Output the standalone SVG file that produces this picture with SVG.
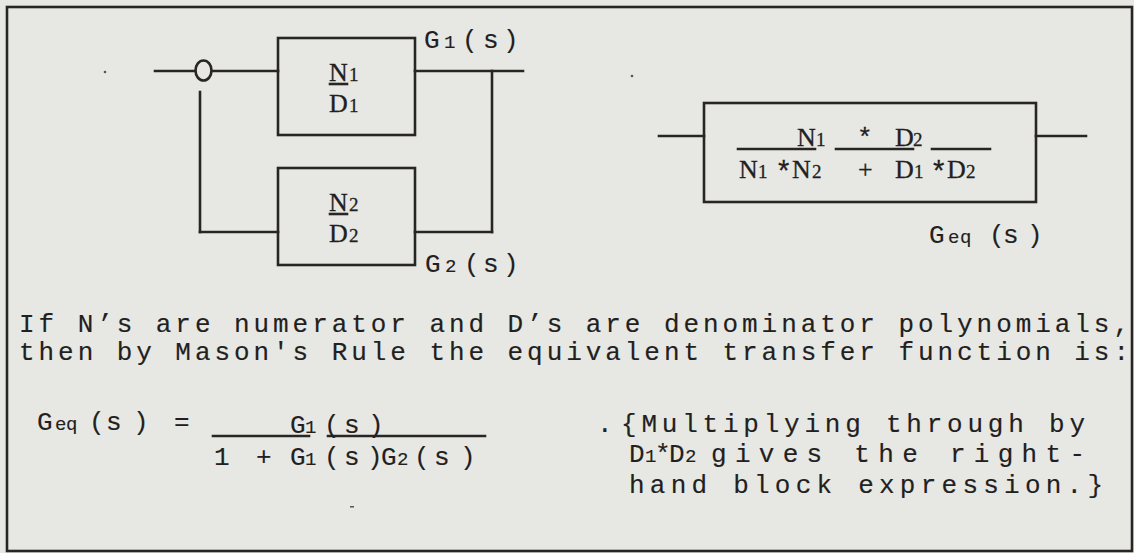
<svg xmlns="http://www.w3.org/2000/svg" width="1134" height="553" viewBox="0 0 1134 553">
<style>
.w{stroke:#2a2525;stroke-width:2.6;fill:none;stroke-linecap:square}
.box{fill:none;stroke:#2a2525;stroke-width:2.6}
.t{font-family:"Liberation Mono",monospace;font-size:26px;fill:#231f1f;stroke:#231f1f;stroke-width:0.15}
.s{font-family:"Liberation Serif",serif;font-size:26px;fill:#231f1f;stroke:#231f1f;stroke-width:0.3}
.sub{font-size:19px}
.ss{font-size:19px}
.ast{font-family:"Liberation Mono",monospace;font-size:29px}
.ast2{font-family:"Liberation Mono",monospace;font-size:26px}
</style>
<rect x="0" y="0" width="1134" height="553" fill="#e7e8e3"/>
<rect class="box" x="7" y="7" width="1125" height="544"/>

<g id="connectors">
<line class="w" x1="155" y1="71" x2="195" y2="71"/>
<line class="w" x1="212" y1="71" x2="278" y2="71"/>
<line class="w" x1="415" y1="71" x2="523" y2="71"/>
<line class="w" x1="492" y1="71" x2="492" y2="232"/>
<line class="w" x1="415" y1="232" x2="492" y2="232"/>
<line class="w" x1="200" y1="92" x2="200" y2="232"/>
<line class="w" x1="200" y1="232" x2="278" y2="232"/>
<line class="w" x1="659" y1="136" x2="704" y2="136"/>
<line class="w" x1="1036" y1="136" x2="1086" y2="136"/>
</g>

<g id="junction">
<ellipse class="w" cx="203.5" cy="70.5" rx="8" ry="10"/>
</g>

<g id="block-G1">
<rect class="box" x="278" y="38" width="137" height="97"/>
<text class="s" x="329" y="81">N<tspan class="ss" x="349">1</tspan></text>
<line class="w" x1="330" y1="84" x2="347" y2="84"/>
<text class="s" x="329" y="112">D<tspan class="ss" x="349">1</tspan></text>
<text class="t" y="48"><tspan x="424">G</tspan><tspan class="sub" x="444">1</tspan><tspan x="462">(</tspan><tspan x="483">s</tspan><tspan x="503">)</tspan></text>
</g>

<g id="block-G2">
<rect class="box" x="278" y="168" width="137" height="97"/>
<text class="s" x="329" y="211">N<tspan class="ss" x="349">2</tspan></text>
<line class="w" x1="330" y1="214" x2="347" y2="214"/>
<text class="s" x="329" y="242">D<tspan class="ss" x="349">2</tspan></text>
<text class="t" y="272"><tspan x="425">G</tspan><tspan class="sub" x="445">2</tspan><tspan x="464">(</tspan><tspan x="483">s</tspan><tspan x="503">)</tspan></text>
</g>

<g id="block-Geq">
<rect class="box" x="704" y="103" width="332" height="99"/>
<line class="w" x1="738" y1="149" x2="815" y2="149"/>
<line class="w" x1="836" y1="149" x2="913" y2="149"/>
<line class="w" x1="932" y1="149" x2="990" y2="149"/>
<text class="s" y="146"><tspan x="797">N</tspan><tspan class="ss" x="816">1</tspan><tspan class="ast2" x="857">*</tspan><tspan x="895">D</tspan><tspan class="ss" x="913">2</tspan></text>
<text class="s" y="178"><tspan x="739">N</tspan><tspan class="ss" x="758">1</tspan><tspan class="ast" x="775" dy="4">*</tspan><tspan x="792" dy="-4">N</tspan><tspan class="ss" x="812">2</tspan><tspan x="858">+</tspan><tspan x="895">D</tspan><tspan class="ss" x="914">1</tspan><tspan class="ast" x="930" dy="4">*</tspan><tspan x="947" dy="-4">D</tspan><tspan class="ss" x="966">2</tspan></text>
<text class="t" y="243"><tspan x="929">G</tspan><tspan class="sub" x="948">e</tspan><tspan class="sub" x="960">q</tspan><tspan x="989">(</tspan><tspan x="1003">s</tspan><tspan x="1027">)</tspan></text>
</g>

<g id="explanation">
<text class="t" x="19" y="332" textLength="1110" lengthAdjust="spacing">If N’s are numerator and D’s are denominator polynomials,</text>
<text class="t" x="19" y="360" textLength="1110" lengthAdjust="spacing">then by Mason's Rule the equivalent transfer function is:</text>
</g>

<g id="formula">
<text class="t" y="430"><tspan x="37">G</tspan><tspan class="sub" x="55">e</tspan><tspan class="sub" x="66">q</tspan><tspan x="89">(</tspan><tspan x="106">s</tspan><tspan x="133">)</tspan><tspan x="174">=</tspan></text>
<line class="w" x1="213" y1="436" x2="309" y2="436"/>
<line class="w" x1="328" y1="436" x2="485" y2="436"/>
<text class="t" y="433"><tspan x="290">G</tspan><tspan class="sub" x="305">1</tspan><tspan x="324">(</tspan><tspan x="344">s</tspan><tspan x="368">)</tspan></text>
<text class="t" y="465"><tspan x="214">1</tspan><tspan x="256">+</tspan><tspan x="290">G</tspan><tspan class="sub" x="305">1</tspan><tspan x="324">(</tspan><tspan x="344">s</tspan><tspan x="367">)</tspan><tspan x="381">G</tspan><tspan class="sub" x="397">2</tspan><tspan x="414">(</tspan><tspan x="434">s</tspan><tspan x="460">)</tspan></text>
</g>

<g id="note">
<text class="t" x="597" y="432">.</text>
<text class="t" x="621" y="432" textLength="464" lengthAdjust="spacing">{Multiplying through by</text>
<text class="t" y="462"><tspan x="629">D</tspan><tspan class="sub" x="645">1</tspan><tspan x="655">*</tspan><tspan x="669">D</tspan><tspan class="sub" x="685">2</tspan></text>
<text class="t" x="711" y="462" textLength="374" lengthAdjust="spacing">gives the right-</text>
<text class="t" x="629" y="493" textLength="474" lengthAdjust="spacing">hand block expression.}</text>
</g>

<g id="specks" fill="#555">
<circle cx="105" cy="72" r="1.3"/>
<circle cx="632" cy="76" r="1.3"/>
<rect x="350" y="506" width="4" height="1.5"/>
</g>
</svg>
